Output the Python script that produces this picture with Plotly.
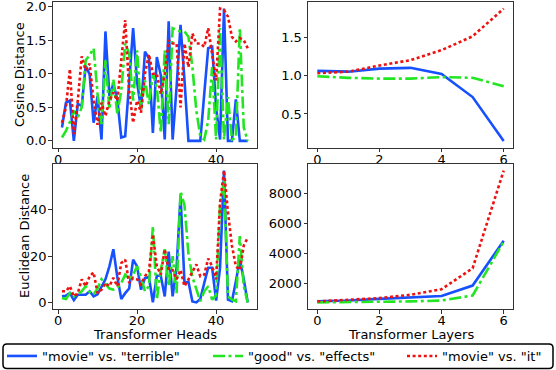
import plotly.graph_objects as go

# ---------------- data ----------------
heads = list(range(1, 49))
layers = list(range(0, 7))

labels = ['"movie" vs. "terrible"', '"good" vs. "effects"', '"movie" vs. "it"']

cos_heads_blue = [0.20, 0.57, 0.60, 0.00, 0.55, 0.52, 1.12, 0.99, 0.27, 0.67,
                  0.02, 1.63, 0.67, 0.85, 0.62, 0.05, 0.07, 0.85, 1.68, 0.88,
                  0.47, 1.33, 1.23, 0.12, 1.25, 0.98, 0.02, 1.78, 0.02, 0.80,
                  1.73, 0.90, 0.00, 0.00, 0.00, 0.00, 0.70, 1.38, 1.40, 0.50,
                  0.02, 1.97, 0.00, 0.00, 0.62, 0.00, 0.00, 0.00]
cos_heads_green = [0.05, 0.15, 0.28, 0.45, 0.35, 0.50, 1.20, 1.28, 1.38, 0.70,
                   0.25, 1.20, 0.47, 0.92, 0.40, 0.75, 1.45, 1.30, 0.60, 1.35,
                   0.47, 0.90, 0.55, 1.00, 0.80, 0.12, 1.35, 0.25, 1.68, 1.65,
                   1.63, 1.63, 1.55, 1.10, 0.45, 0.07, 0.02, 0.30, 1.10, 0.02,
                   1.68, 0.02, 0.65, 0.02, 0.05, 1.68, 0.20, 0.00]
cos_heads_red = [0.27, 0.50, 1.07, 0.10, 0.60, 1.26, 1.05, 1.15, 0.60, 0.24,
                 0.57, 0.37, 0.60, 0.72, 0.60, 1.20, 1.80, 0.75, 0.27, 0.60,
                 0.42, 1.00, 1.29, 1.00, 1.00, 0.70, 1.00, 1.50, 1.45, 1.45,
                 0.50, 1.45, 1.10, 1.60, 1.45, 1.45, 1.40, 1.68, 1.30, 0.90,
                 1.97, 1.95, 1.85, 1.55, 1.48, 1.53, 1.50, 1.38]

euc_heads_blue = [2.6, 2.9, 4.0, 1.0, 3.3, 3.3, 3.3, 4.8, 2.6, 3.5,
                  7.0, 10.0, 15.6, 23.0, 11.0, 1.5, 4.0, 6.0, 18.5, 15.6,
                  5.5, 10.5, 11.0, 0.0, 11.5, 11.5, 2.6, 22.0, 2.6, 15.0,
                  46.0, 8.4, 9.0, 0.4, 0.0, 1.5, 8.4, 15.0, 15.0, 0.8,
                  15.0, 57.0, 1.2, 0.5, 9.0, 18.5, 10.0, 0.0]
euc_heads_green = [1.9, 1.5, 4.0, 2.6, 3.5, 4.8, 7.0, 4.5, 3.5, 6.0,
                   10.0, 8.0, 6.0, 5.5, 6.5, 8.4, 12.0, 10.0, 12.0, 15.6,
                   11.0, 4.8, 7.0, 33.0, 1.2, 14.0, 23.0, 7.0, 20.0, 4.0,
                   48.0, 42.0, 21.0, 11.0, 5.5, 0.5, 4.8, 7.0, 1.2, 3.0,
                   42.0, 53.0, 2.6, 1.2, 0.5, 28.7, 7.0, 0.0]
euc_heads_red = [4.8, 4.8, 7.0, 2.6, 4.0, 10.0, 7.0, 11.3, 13.0, 4.0,
                 5.5, 8.4, 7.0, 10.6, 7.0, 17.0, 18.5, 8.4, 10.6, 10.0,
                 7.7, 11.3, 13.5, 29.4, 15.6, 12.0, 23.0, 14.0, 14.0, 10.0,
                 14.0, 7.0, 10.0, 13.5, 16.4, 11.3, 12.0, 19.0, 15.6, 10.0,
                 43.0, 57.0, 39.0, 24.6, 15.6, 14.0, 24.6, 28.0]

cos_layers_blue = [1.06, 1.05, 1.09, 1.10, 1.02, 0.72, 0.15]
cos_layers_green = [0.99, 0.97, 0.96, 0.96, 0.98, 0.97, 0.86]
cos_layers_red = [1.03, 1.05, 1.13, 1.20, 1.33, 1.51, 1.87]

euc_layers_blue = [840, 900, 1010, 1120, 1200, 1890, 4850]
euc_layers_green = [775, 795, 800, 840, 900, 1230, 4800]
euc_layers_red = [840, 950, 1060, 1280, 1650, 3030, 9490]

# ---------------- styling ----------------
W, H = 556, 370
FONT = "DejaVu Sans"
BLUE = "#1650ff"
GREEN = "#22e622"
RED = "#ee1111"
styles = [(BLUE, "solid"), (GREEN, "12px,3.5px,3px,3.5px"), (RED, "3px,2.6px")]
LW = 2.6


def px_x(p):
    return p / W


def px_y(p):
    return 1 - p / H


fig = go.Figure()

panels = [
    ("x", "y", heads, [cos_heads_blue, cos_heads_green, cos_heads_red]),
    ("x2", "y2", layers, [cos_layers_blue, cos_layers_green, cos_layers_red]),
    ("x3", "y3", heads, [euc_heads_blue, euc_heads_green, euc_heads_red]),
    ("x4", "y4", layers, [euc_layers_blue, euc_layers_green, euc_layers_red]),
]
legend_ids = ["legend", "legend2", "legend3"]
for pi, (xa, ya, xs, ys_list) in enumerate(panels):
    for si, ys in enumerate(ys_list):
        color, dash = styles[si]
        fig.add_trace(go.Scatter(
            x=xs, y=ys, mode="lines", name=labels[si],
            line=dict(color=color, width=LW, dash=dash),
            xaxis=xa, yaxis=ya,
            showlegend=(pi == 0), legend=legend_ids[si],
        ))

axis_common = dict(
    showline=True, mirror=True, linecolor="#333333", linewidth=1,
    ticks="outside", ticklen=3.5, tickwidth=1, tickcolor="#333333",
    showgrid=False, zeroline=False, automargin=False,
    ticklabeloverflow="allow",
    tickfont=dict(family=FONT, size=13, color="black"),
)
xax = dict(ticklabelstandoff=-4, **axis_common)
yax = dict(ticklabelstandoff=-1, **axis_common)

L_dom = [px_x(52.7), px_x(257)]
R_dom = [px_x(308), px_x(513)]
T_dom = [px_y(147.5), px_y(2)]
B_dom = [px_y(309), px_y(164)]

fig.update_layout(
    width=W, height=H,
    margin=dict(l=0, r=0, t=0, b=0, autoexpand=False),
    paper_bgcolor="white", plot_bgcolor="white",
    font=dict(family=FONT, size=13, color="black"),
    xaxis=dict(domain=L_dom, anchor="y", range=[-1.35, 50.35],
               tickvals=[0, 20, 40], **xax),
    yaxis=dict(domain=T_dom, anchor="x", range=[-0.0985, 2.0685],
               tickvals=[0.0, 0.5, 1.0, 1.5, 2.0], tickformat=".1f", **yax),
    xaxis2=dict(domain=R_dom, anchor="y2", range=[-0.3, 6.3],
                tickvals=[0, 2, 4, 6], **xax),
    yaxis2=dict(domain=T_dom, anchor="x2", range=[0.064, 1.956],
                tickvals=[0.5, 1.0, 1.5], tickformat=".1f", **yax),
    xaxis3=dict(domain=L_dom, anchor="y3", range=[-1.35, 50.35],
                tickvals=[0, 20, 40], **xax),
    yaxis3=dict(domain=B_dom, anchor="x3", range=[-2.85, 59.85],
                tickvals=[0, 20, 40, 60], **yax),
    xaxis4=dict(domain=R_dom, anchor="y4", range=[-0.3, 6.3],
                tickvals=[0, 2, 4, 6], **xax),
    yaxis4=dict(domain=B_dom, anchor="x4", range=[339, 9926],
                tickvals=[2000, 4000, 6000, 8000], **yax),
)

leg_common = dict(orientation="h", xanchor="left", yanchor="middle",
                  xref="container", yref="container",
                  y=px_y(356), bgcolor="rgba(0,0,0,0)", borderwidth=0,
                  font=dict(family=FONT, size=13, color="black"))
fig.update_layout(
    legend=dict(x=px_x(2), **leg_common),
    legend2=dict(x=px_x(208), **leg_common),
    legend3=dict(x=px_x(402), **leg_common),
)

# legend frame with rounded corners
x0, x1, y0, y1, r = 3, 553, 344, 368.5, 4
pts = (f"M {px_x(x0 + r)},{px_y(y0)} L {px_x(x1 - r)},{px_y(y0)} "
       f"Q {px_x(x1)},{px_y(y0)} {px_x(x1)},{px_y(y0 + r)} "
       f"L {px_x(x1)},{px_y(y1 - r)} Q {px_x(x1)},{px_y(y1)} {px_x(x1 - r)},{px_y(y1)} "
       f"L {px_x(x0 + r)},{px_y(y1)} Q {px_x(x0)},{px_y(y1)} {px_x(x0)},{px_y(y1 - r)} "
       f"L {px_x(x0)},{px_y(y0 + r)} Q {px_x(x0)},{px_y(y0)} {px_x(x0 + r)},{px_y(y0)} Z")
fig.add_shape(type="path", path=pts, xref="paper", yref="paper",
              line=dict(color="black", width=1.5), fillcolor="rgba(0,0,0,0)")

# axis titles
titles = [
    ("Cosine Distance", 19, 75, -90),
    ("Euclidean Distance", 24, 236, -90),
    ("Transformer Heads", 155, 334.5, 0),
    ("Transformer Layers", 410.5, 334.5, 0),
]
for text, xp, yp, ang in titles:
    fig.add_annotation(text=text, x=px_x(xp), y=px_y(yp), xref="paper", yref="paper",
                       showarrow=False, textangle=ang, xanchor="center", yanchor="middle",
                       borderpad=0,
                       font=dict(family=FONT, size=13, color="black"))

fig.write_html("out.html", config={"displayModeBar": False},
               post_script="document.body.style.margin='0px';document.body.style.overflow='hidden';")
